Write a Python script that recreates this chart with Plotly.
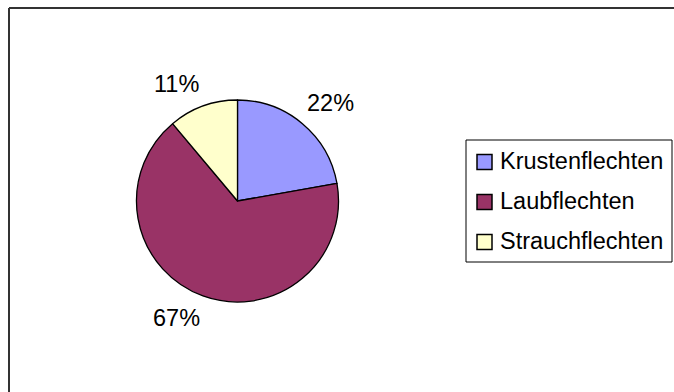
import math
import plotly.graph_objects as go

# Flechten-Wuchsformen (Anzahl Arten)
categories = ["Krustenflechten", "Laubflechten", "Strauchflechten"]
counts = [2, 6, 1]
colors = ["#9999FF", "#993366", "#FFFFCC"]

W, H = 674, 392
FONT = "Liberation Sans, Arial, sans-serif"
FS = 23.5

# pie geometry in pixels
cx, cy, r = 237.5, 201.0, 101.0


def px(x):
    return x / W


def py(y):
    return 1 - y / H


fig = go.Figure(
    go.Pie(
        labels=categories,
        values=counts,
        marker=dict(colors=colors, line=dict(color="#000000", width=1.3)),
        sort=False,
        direction="clockwise",
        rotation=0,
        textinfo="none",
        hoverinfo="label+percent",
        showlegend=False,
        domain=dict(x=[px(cx - r), px(cx + r)], y=[py(cy + r), py(cy - r)]),
    )
)

annotations = []
shapes = []

# percentage labels outside the slices
total = sum(counts)
start = 0.0
for v in counts:
    frac = v / total
    mid = (start + frac / 2) * 2 * math.pi
    start += frac
    s, c = math.sin(mid), math.cos(mid)
    lx = cx + 107 * s + 24 * (1 if s >= 0 else -1)
    ly = cy - 107 * c - 16 * (1 if c >= 0 else -1)
    annotations.append(dict(
        x=px(lx), y=py(ly), xref="paper", yref="paper",
        text=f"{round(frac * 100)}%", showarrow=False,
        xanchor="center", yanchor="middle",
        font=dict(family=FONT, size=FS, color="#000000"),
    ))

# legend box
lg_x0, lg_y0, lg_x1, lg_y1 = 466, 140, 672, 262
shapes.append(dict(type="rect", xref="paper", yref="paper",
                   x0=px(lg_x0), x1=px(lg_x1), y0=py(lg_y1), y1=py(lg_y0),
                   line=dict(color="#000000", width=1), fillcolor="rgba(0,0,0,0)"))
row0, row_gap = 161, 40
for i, (name, col) in enumerate(zip(categories, colors)):
    ry = row0 + i * row_gap
    shapes.append(dict(type="rect", xref="paper", yref="paper",
                       x0=px(477), x1=px(492), y0=py(ry + 8.5), y1=py(ry - 6.5),
                       line=dict(color="#000000", width=1.5), fillcolor=col))
    annotations.append(dict(
        x=px(498), y=py(ry), xref="paper", yref="paper",
        text=name, showarrow=False, xanchor="left", yanchor="middle",
        font=dict(family=FONT, size=FS, color="#000000"),
    ))

# chart area frame: top and left edges only
frame = dict(color="#333333", width=2)
shapes.append(dict(type="line", xref="paper", yref="paper",
                   x0=px(9), x1=1, y0=py(8), y1=py(8), line=frame))
shapes.append(dict(type="line", xref="paper", yref="paper",
                   x0=px(9), x1=px(9), y0=py(8), y1=0, line=frame))

fig.update_layout(
    width=W, height=H,
    margin=dict(l=0, r=0, t=0, b=0),
    paper_bgcolor="#FFFFFF",
    plot_bgcolor="#FFFFFF",
    annotations=annotations,
    shapes=shapes,
    showlegend=False,
)

fig.write_html("out.html", config={"displayModeBar": False})
